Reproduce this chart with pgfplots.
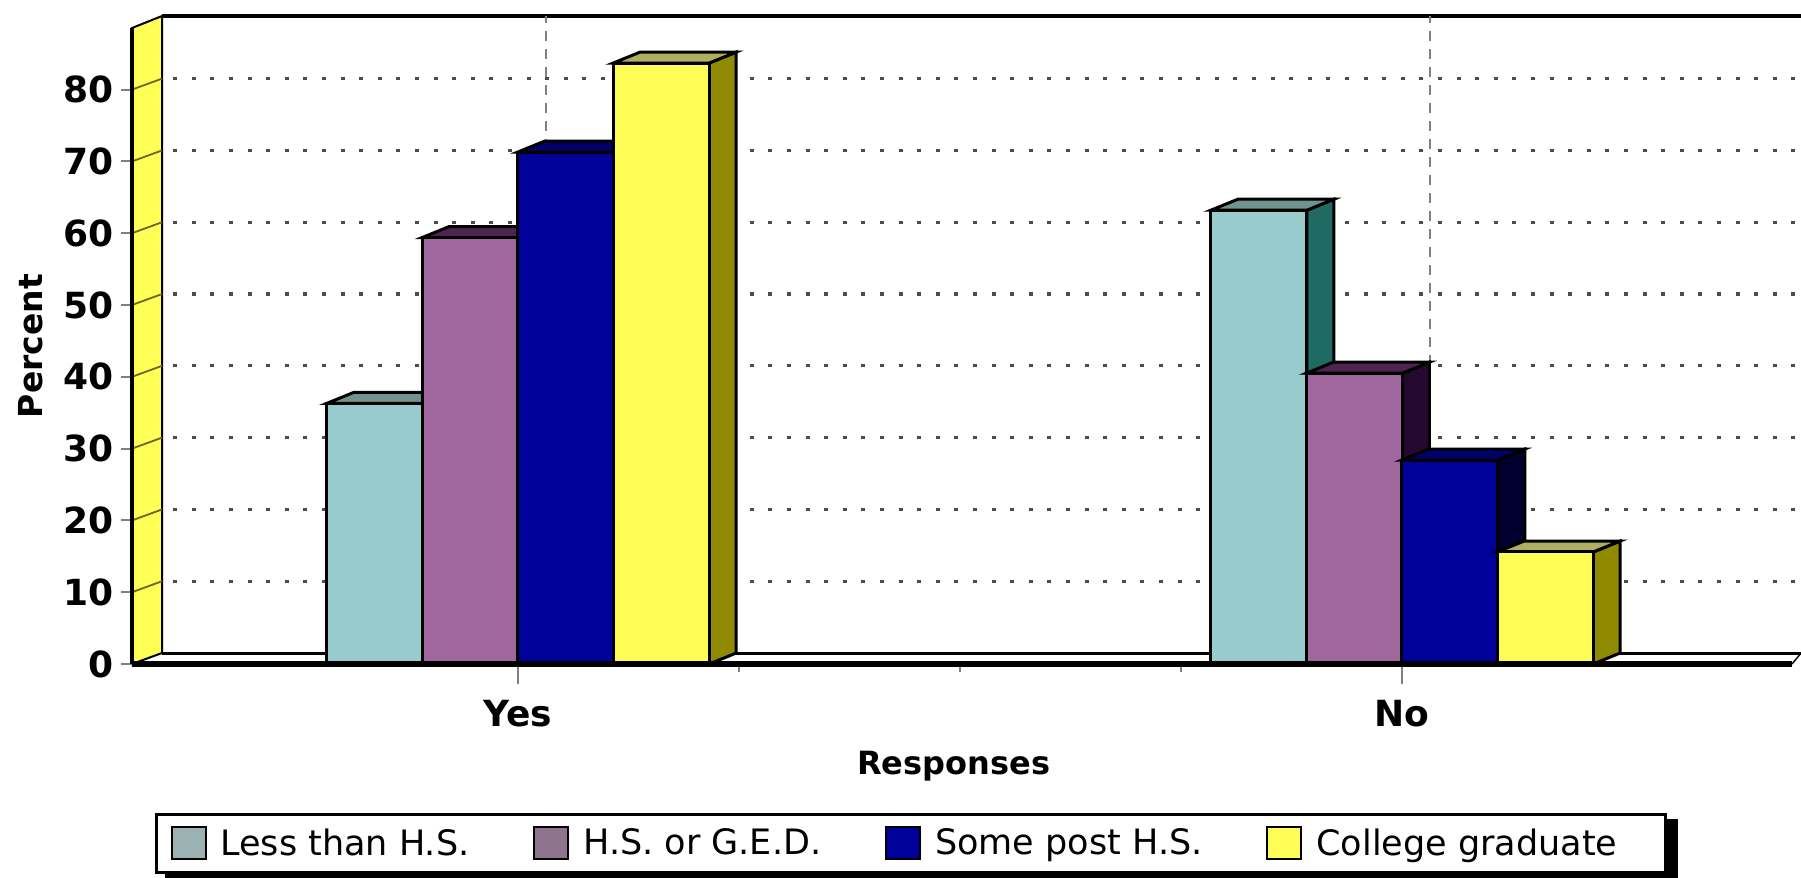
\documentclass[border=0pt]{standalone}
\usepackage{fontspec}
\setmainfont{DejaVu Sans}
\usepackage{pgfplots}
\pgfplotsset{compat=1.18}

\definecolor{wallyellow}{HTML}{FFFF55}
\definecolor{tealfront}{HTML}{98CCCC}
\definecolor{tealside}{HTML}{1F6B63}
\definecolor{tealtop}{HTML}{6F9490}
\definecolor{mauvefront}{HTML}{A0669E}
\definecolor{mauveside}{HTML}{240830}
\definecolor{mauvetop}{HTML}{4E2450}
\definecolor{bluefront}{HTML}{00009A}
\definecolor{blueside}{HTML}{000030}
\definecolor{bluetop}{HTML}{00006A}
\definecolor{yellowfront}{HTML}{FDFD55}
\definecolor{yellowside}{HTML}{8F8A00}
\definecolor{yellowtop}{HTML}{B0AE60}

% depth of the fake 3D in axis units
\newcommand{\dx}{0.0305}
\newcommand{\dy}{1.53}

% side and top face of one bar: group, shift, value, side colour, top colour
\newcommand{\barbox}[5]{%
  \pgfmathsetmacro\xl{#1+#2-0.0543}
  \pgfmathsetmacro\xr{#1+#2+0.0543}
  \pgfmathsetmacro\xlb{\xl+\dx}
  \pgfmathsetmacro\xrb{\xr+\dx}
  \pgfmathsetmacro\yb{#3+\dy}
  \addplot[forget plot, fill=#4, draw=black, line width=1.5pt]
    coordinates {(\xr,0) (\xrb,\dy) (\xrb,\yb) (\xr,#3)} --cycle;
  \addplot[forget plot, fill=#5, draw=black, line width=1.5pt]
    coordinates {(\xl,#3) (\xlb,\yb) (\xrb,\yb) (\xr,#3)} --cycle;
}

% one series: shift, value Yes, value No, front, side, top
\newcommand{\series}[6]{%
  \barbox{0}{#1}{#2}{#5}{#6}
  \barbox{1}{#1}{#3}{#5}{#6}
  \addplot[forget plot, ybar, bar shift=#1, bar width=0.1086, fill=#4, draw=black, line width=1.5pt]
    coordinates {(0,#2) (1,#3)};
}

\newcommand{\swatch}[1]{%
  \addlegendimage{legend image code/.code={%
    \draw[fill=#1, draw=black, line width=1pt] (0pt,-8pt) rectangle (17pt,8pt);}}
}

\begin{document}
\begin{tikzpicture}
\path[use as bounding box, clip] (-66pt,-107pt) rectangle (834.5pt,332pt);
\fill[white] (-66pt,-107pt) rectangle (834.5pt,332pt);
\begin{axis}[
    at={(0pt,0pt)},
    anchor=south west,
    x=442pt,
    y=3.59pt,
    xmin=-0.4367,
    xmax=1.4412,
    ymin=0,
    ymax=88.58,
    clip=false,
    axis on top,
    axis x line*=bottom,
    axis y line*=left,
    x axis line style={line width=3.2pt,-},
    y axis line style={line width=2.4pt,-},
    tick align=outside,
    xtick={0,1},
    xticklabels={Yes,No},
    minor xtick={0.25,0.5,0.75},
    minor tick length=4pt,
    ytick={0,10,...,80},
    major tick length=5.5pt,
    x tick style={gray, line width=0.7pt, /pgfplots/major tick length=10pt},
    y tick style={gray, line width=1pt},
    /pgf/number format/assume math mode=true,
    tick label style={font=\fontsize{18}{20}\selectfont\bfseries},
    xticklabel style={yshift=-9pt},
    xlabel={Responses},
    ylabel={Percent},
    xlabel style={font=\fontsize{16}{20}\selectfont\bfseries, at={(axis description cs:0.495,-0.16)}, anchor=center},
    ylabel style={font=\fontsize{16.5}{20}\selectfont\bfseries, at={(axis description cs:-0.0608,0.5)}, anchor=center},
    legend columns=4,
    legend cell align=left,
    legend style={
        at={(axis description cs:0.0139,-0.2343)},
        anchor=north west,
        draw=black,
        line width=1.5pt,
        fill=white,
        inner ysep=5pt,
        inner xsep=7pt,
        font=\fontsize{17.5}{20}\selectfont,
        /tikz/every even column/.append style={column sep=30pt},
        /tikz/every odd column/.append style={column sep=5pt},
    },
]

% back wall and floor lines
\addplot[forget plot, fill=wallyellow, draw=black, line width=1pt]
    coordinates {(-0.4367,0) (-0.4027,1.53) (-0.4027,90.25) (-0.4367,88.58)} --cycle;
\addplot[forget plot, black, line width=1.6pt] coordinates {(-0.4027,90.25) (1.47,90.25)};
\addplot[forget plot, black, line width=1.5pt] coordinates {(-0.4027,1.53) (1.47,1.53)};
\addplot[forget plot, black, line width=0.7pt] coordinates {(1.4412,0) (1.4514,1.53)};

% grid drawn on the back plane
\pgfplotsinvokeforeach{10,20,...,80}{
  \pgfmathsetmacro\yg{#1+1.53}
  \addplot[forget plot, draw=black!70, line width=1.6pt, dash pattern=on 2pt off 7.3pt]
    coordinates {(-0.39,\yg) (1.47,\yg)};
  \addplot[forget plot, draw=olive!70!black, line width=0.9pt]
    coordinates {(-0.4367,#1) (-0.4027,\yg)};
}
\addplot[forget plot, draw=black!50, line width=0.7pt, dash pattern=on 5pt off 4pt]
    coordinates {(0.0317,1.53) (0.0317,90.25)};
\addplot[forget plot, draw=black!50, line width=0.7pt, dash pattern=on 5pt off 4pt]
    coordinates {(1.0317,1.53) (1.0317,90.25)};

% bars, painted left to right
\series{-0.162}{36.3}{63.2}{tealfront}{tealside}{tealtop}
\series{-0.054}{59.4}{40.5}{mauvefront}{mauveside}{mauvetop}
\series{0.054}{71.3}{28.4}{bluefront}{blueside}{bluetop}
\series{0.162}{83.7}{15.6}{yellowfront}{yellowside}{yellowtop}

% shadow under the legend box
\addplot[forget plot, fill=black, draw=black]
    coordinates {(-0.3993,-21.7) (1.311,-21.7) (1.311,-29.7) (-0.3993,-29.7)} --cycle;

\swatch{teal!30!gray!60}
\addlegendentry{Less than H.S.}
\swatch{mauvefront!45!gray}
\addlegendentry{H.S. or G.E.D.}
\swatch{bluefront}
\addlegendentry{Some post H.S.}
\swatch{yellowfront}
\addlegendentry{College graduate\rule{15pt}{0pt}}
\end{axis}
\end{tikzpicture}
\end{document}
